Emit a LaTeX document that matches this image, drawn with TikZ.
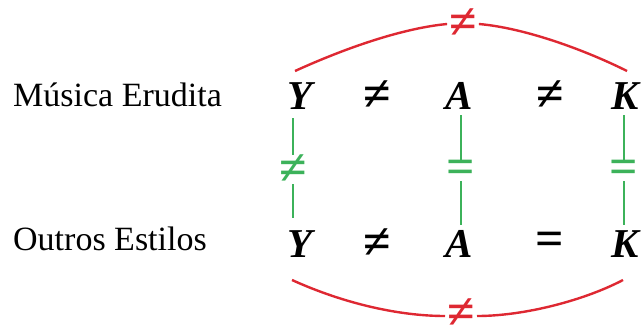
\documentclass[tikz,border=0pt]{standalone}
\usepackage{fontspec}
\setmainfont{Liberation Serif}
\definecolor{arcred}{RGB}{222,40,50}
\definecolor{lgreen}{RGB}{60,178,90}
\begin{document}
\begin{tikzpicture}[x=1pt,y=-1pt,
  lab/.style={anchor=base west,inner sep=0pt,font=\fontsize{34}{34}\selectfont},
  let/.style={anchor=base,inner sep=0pt,font=\fontsize{41}{41}\selectfont\bfseries\itshape},
  rel/.style={inner sep=0pt,font=\fontsize{50}{50}\selectfont\bfseries},
  grel/.style={rel,text=lgreen},
  rrel/.style={rel,text=arcred},
  gline/.style={draw=lgreen,line width=2.6pt},
  rline/.style={draw=arcred,line width=2.4pt}]
\useasboundingbox (0,0) rectangle (643,333);
% labels
\node[lab] (me) at (13,106) {Música Erudita};
\node[lab] (oe) at (13,250) {Outros Estilos};
% letters
\node[let] (Y1) at (300,109) {Y};
\node[let] (A1) at (459,109) {A};
\node[let] (K1) at (625,109) {K};
\node[let] (Y2) at (300,257) {Y};
\node[let] (A2) at (459,257) {A};
\node[let] (K2) at (625,257) {K};
% row relations
\node[rel] (r1) at (377,96) {≠};
\node[rel] (r2) at (550,96) {≠};
\node[rel] (r3) at (377,244) {≠};
\node[rel] (r4) at (550,244) {=};
% green column relations
\node[grel] (gy) at (293,170) {≠};
\node[grel] (ga) at (461,172) {=};
\node[grel] (gk) at (624,172) {=};
\coordinate (gy1) at (293,118); \coordinate (gy2) at (293,155);
\coordinate (gy3) at (293,184); \coordinate (gy4) at (293,218);
\coordinate (ga1) at (461,115); \coordinate (ga2) at (461,162);
\coordinate (ga3) at (461,181); \coordinate (ga4) at (461,225);
\coordinate (gk1) at (624,115); \coordinate (gk2) at (624,162);
\coordinate (gk3) at (624,181); \coordinate (gk4) at (624,225);
\draw[gline] (gy1) -- (gy2) (gy3) -- (gy4);
\draw[gline] (ga1) -- (ga2) (ga3) -- (ga4);
\draw[gline] (gk1) -- (gk2) (gk3) -- (gk4);
% red arcs
\node[rrel] (top) at (463,24) {≠};
\node[rrel,anchor=base,text depth=0pt] (bot) at (461,328) {≠};
\coordinate (ty) at (295,71); \coordinate (tk) at (627,71);
\coordinate (by) at (292,280); \coordinate (bk) at (623,280);
\coordinate (bl) at (445,316); \coordinate (br) at (477,316);
\draw[rline] (ty) .. controls (350,46) and (405,28) .. ([xshift=-2pt]top.west);
\draw[rline] ([xshift=2pt]top.east) .. controls (525,28) and (585,50) .. (tk);
\draw[rline] (by) .. controls (345,304) and (400,316) .. (bl);
\draw[rline] (br) .. controls (525,316) and (585,300) .. (bk);
\end{tikzpicture}
\end{document}
